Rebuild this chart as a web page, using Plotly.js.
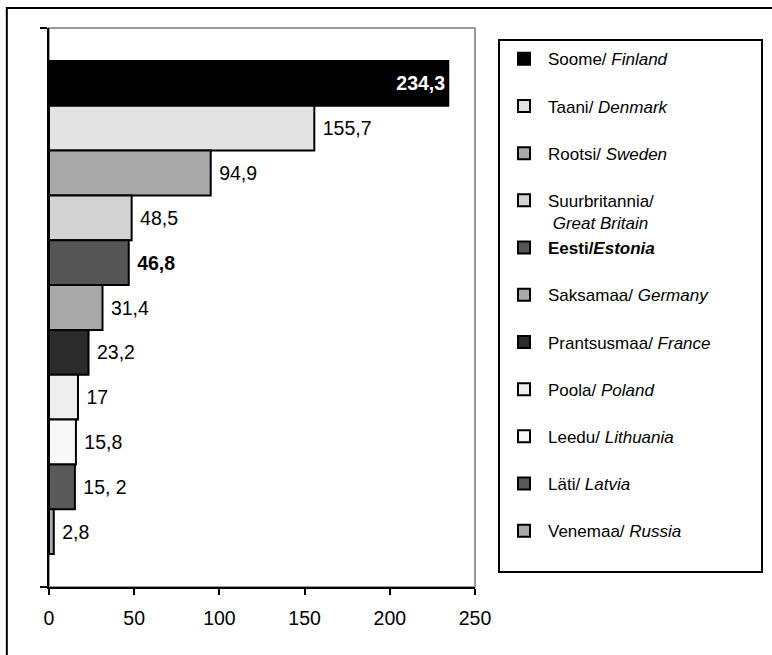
<!DOCTYPE html>
<html>
<head>
<meta charset="utf-8">
<script src="https://cdn.plot.ly/plotly-3.0.1.min.js"></script>
<style>html,body{margin:0;padding:0;background:#fff;}#chart{width:772px;height:655px;}</style>
</head>
<body>
<div id="chart"></div>
<script>
var countriesEt = ["Soome", "Taani", "Rootsi", "Suurbritannia", "Eesti", "Saksamaa", "Prantsusmaa", "Poola", "Leedu", "Läti", "Venemaa"];
var countriesEn = ["Finland", "Denmark", "Sweden", "Great Britain", "Estonia", "Germany", "France", "Poland", "Lithuania", "Latvia", "Russia"];
var values = [234.3, 155.7, 94.9, 48.5, 46.8, 31.4, 23.2, 17, 15.8, 15.2, 2.8];
var valueLabels = ["234,3", "155,7", "94,9", "48,5", "46,8", "31,4", "23,2", "17", "15,8", "15, 2", "2,8"];
var barColors = ["#000000", "#e3e3e3", "#a9a9a9", "#d3d3d3", "#555555", "#a9a9a9", "#2b2b2b", "#efefef", "#f8f8f8", "#595959", "#a9a9a9"];
var xTicks = [0, 50, 100, 150, 200, 250];

var FONT = "Liberation Sans, Arial, sans-serif";
var legendPad = new Array(45).join("\u00a0"); // invisible filler widening the legend box
var traces = [];
for (var i = 0; i < values.length; i++) {
  var isFin = (i === 0);
  var isEst = (countriesEn[i] === "Estonia");
  var isLast = (i === values.length - 1);
  var name;
  if (isEst) {
    name = "<b>" + countriesEt[i] + "/<i>" + countriesEn[i] + "</i></b><br>\u00a0";
  } else if (countriesEn[i] === "Great Britain") {
    name = countriesEt[i] + "/<br>\u00a0<i>" + countriesEn[i] + "</i>";
  } else {
    name = countriesEt[i] + "/ <i>" + countriesEn[i] + "</i><br>" + (isLast ? legendPad : "\u00a0");
  }
  traces.push({
    type: "bar",
    orientation: "h",
    x: [values[i]],
    y: ["g"],
    name: name,
    legendgroup: "g" + i,
    text: [isFin ? valueLabels[i] : "\u00a0" + valueLabels[i]],
    textposition: isFin ? "inside" : "outside",
    insidetextanchor: "end",
    cliponaxis: false,
    textfont: {
      family: FONT,
      size: 19.5,
      color: isFin ? "#ffffff" : "#000000",
      weight: (isFin || isEst) ? "bold" : "normal"
    },
    marker: {color: barColors[i], line: {color: "#000000", width: 2}},
    hoverinfo: "skip"
  });
}

var layout = {
  width: 772,
  height: 655,
  margin: {l: 49, r: 297, t: 28, b: 68, autoexpand: false},
  paper_bgcolor: "#ffffff",
  plot_bgcolor: "#ffffff",
  barmode: "group",
  bargap: 0.118,
  bargroupgap: 0,
  showlegend: true,
  font: {family: FONT, size: 19.5, color: "#000000"},
  xaxis: {
    range: [0, 250],
    tickvals: xTicks,
    ticktext: xTicks.map(String),
    ticks: "outside",
    ticklen: 6,
    tickwidth: 2,
    tickcolor: "#000000",
    ticklabelstandoff: 7,
    showline: true,
    linecolor: "#000000",
    linewidth: 2,
    showgrid: false,
    zeroline: false,
    tickfont: {family: FONT, size: 19.5, color: "#000000"}
  },
  yaxis: {
    type: "category",
    autorange: "reversed",
    showticklabels: false,
    ticks: "outside",
    tickson: "boundaries",
    ticklen: 7,
    tickwidth: 2,
    tickcolor: "#000000",
    showline: true,
    linecolor: "#000000",
    linewidth: 2,
    showgrid: false,
    zeroline: false
  },
  legend: {
    x: 1.054,
    y: 0.980,
    xanchor: "left",
    yanchor: "top",
    bordercolor: "#000000",
    borderwidth: 2,
    bgcolor: "#ffffff",
    traceorder: "normal",
    tracegroupgap: 0,
    valign: "top",
    itemwidth: 38,
    font: {family: FONT, size: 17, color: "#000000"}
  },
  shapes: [
    {type: "rect", xref: "paper", yref: "paper", x0: 0, x1: 1, y0: 0, y1: 1,
     line: {color: "#999999", width: 2}, layer: "below"},
    {type: "rect", xref: "paper", yref: "paper", x0: -0.099, x1: 1.75, y0: -0.2, y1: 1.036,
     line: {color: "#000000", width: 2}, layer: "below"}
  ]
};

Plotly.newPlot("chart", traces, layout, {displayModeBar: false, staticPlot: true});
</script>
</body>
</html>
